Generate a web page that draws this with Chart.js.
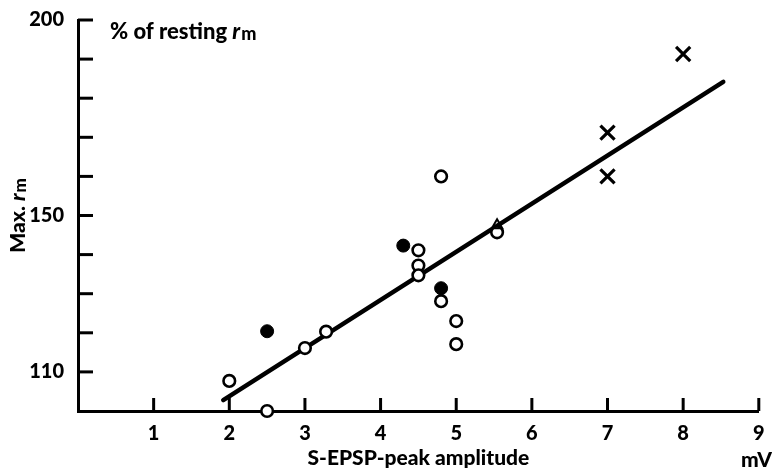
<!DOCTYPE html>
<html><head><meta charset="utf-8">
<script src="https://cdn.jsdelivr.net/npm/chart.js@4"></script>
<style>html,body{margin:0;padding:0;background:#fff}#wrap{width:772px;height:471px;position:relative}</style>
</head><body><div id="wrap"><canvas id="c"></canvas></div>
<script>
// S-EPSP peak amplitude (mV) vs max r_m (% of resting)
const openX   = [2.0, 2.5, 3.0, 3.28, 4.5, 4.5, 4.5, 4.8, 4.8, 5.0, 5.0, 5.54];
const openY   = [107.7, 100.0, 116.1, 120.3, 141.1, 137.2, 134.7, 160.0, 128.1, 123.0, 117.1, 145.7];
const filledX = [2.5, 4.3, 4.8];
const filledY = [120.4, 142.3, 131.4];
const triX    = [5.54];
const triY    = [147.5];
const crossX  = [7.0, 7.0, 8.0];
const crossY  = [171.2, 160.0, 191.3];
const fitX    = [1.92, 8.53];
const fitY    = [102.8, 184.2];
const xTicks  = [1, 2, 3, 4, 5, 6, 7, 8, 9];
const yTicks  = [110, 120, 130, 140, 150, 160, 170, 180, 190, 200];
const yLabelled = [110, 150, 200];

const FONT = 'Lato, "Open Sans", sans-serif';
const W = '900';
const pts = (xs, ys) => xs.map((x, i) => ({x, y: ys[i]}));

const tickPlugin = {
  id: 'inwardTicks',
  afterDraw(chart) {
    const {ctx, scales: {x, y}} = chart;
    ctx.save();
    ctx.strokeStyle = '#000';
    ctx.lineWidth = 3;
    ctx.lineCap = 'butt';
    const axisY = y.getPixelForValue(100);
    const axisX = x.getPixelForValue(0);
    xTicks.forEach(v => {
      const px = x.getPixelForValue(v);
      ctx.beginPath(); ctx.moveTo(px, axisY); ctx.lineTo(px, axisY - 13); ctx.stroke();
    });
    yTicks.forEach(v => {
      const py = y.getPixelForValue(v);
      ctx.beginPath(); ctx.moveTo(axisX, py); ctx.lineTo(axisX + 15, py); ctx.stroke();
    });
    ctx.fillStyle = '#000';
    ctx.textBaseline = 'alphabetic';
    // top-left label "% of resting r_m"
    let tx = axisX + 32, ty = y.getPixelForValue(200) + 19;
    ctx.font = W + ' 22px ' + FONT;
    ctx.fillText('% of resting ', tx, ty);
    tx += ctx.measureText('% of resting ').width;
    ctx.font = 'italic ' + W + ' 22px ' + FONT;
    ctx.fillText('r', tx, ty);
    tx += ctx.measureText('r').width + 1;
    ctx.font = W + ' 18px ' + FONT;
    ctx.fillText('m', tx, ty + 1);
    // y-axis title "Max. r_m"
    const cy = (y.getPixelForValue(100) + y.getPixelForValue(200)) / 2;
    ctx.save();
    ctx.translate(25, cy);
    ctx.rotate(-Math.PI / 2);
    ctx.font = W + ' 21px ' + FONT;
    const w1 = ctx.measureText('Max. ').width;
    ctx.font = 'italic ' + W + ' 21px ' + FONT;
    const w2 = ctx.measureText('r').width;
    ctx.font = W + ' 17px ' + FONT;
    const w3 = ctx.measureText('m').width;
    let sx = -(w1 + w2 + w3 + 1) / 2;
    ctx.font = W + ' 21px ' + FONT;
    ctx.fillText('Max. ', sx, 0); sx += w1;
    ctx.font = 'italic ' + W + ' 21px ' + FONT;
    ctx.fillText('r', sx, 0); sx += w2 + 1;
    ctx.font = W + ' 17px ' + FONT;
    ctx.fillText('m', sx, 1);
    ctx.restore();
    // unit "mV"
    ctx.font = W + ' 21px ' + FONT;
    ctx.textAlign = 'right';
    ctx.fillText('mV', chart.width, 467);
    ctx.restore();
  }
};

new Chart(document.getElementById('c'), {
  type: 'scatter',
  data: {
    datasets: [
      { label: 'fit', data: pts(fitX, fitY), showLine: true, borderColor: '#000', borderWidth: 4.5,
        pointRadius: 0, order: 10, clip: false, borderCapStyle: 'round' },
      { label: 'open', data: pts(openX, openY), pointStyle: 'circle', pointRadius: 5.8,
        borderWidth: 2.6, borderColor: '#000', backgroundColor: '#fff', order: 5, clip: false },
      { label: 'filled', data: pts(filledX, filledY), pointStyle: 'circle', pointRadius: 6.5,
        borderWidth: 1, borderColor: '#000', backgroundColor: '#000', order: 4, clip: false },
      { label: 'triangle', data: pts(triX, triY), pointStyle: 'triangle', pointRadius: 6,
        borderWidth: 2, borderColor: '#000', backgroundColor: 'rgba(0,0,0,0)', order: 1, clip: false },
      { label: 'cross', data: pts(crossX, crossY), pointStyle: 'crossRot', pointRadius: 10,
        borderWidth: 3.2, borderColor: '#000', backgroundColor: '#000', order: 2, clip: false }
    ]
  },
  options: {
    responsive: true, maintainAspectRatio: false, animation: false, devicePixelRatio: 1,
    layout: { padding: { left: 0, top: 20, right: 8, bottom: 0 } },
    plugins: { legend: { display: false }, tooltip: { enabled: false } },
    scales: {
      x: {
        type: 'linear', position: 'bottom', min: 0, max: 9,
        grid: { display: false }, border: { display: true, width: 3, color: '#000' },
        ticks: { stepSize: 1, padding: 3, color: '#000', font: { family: FONT, size: 20, weight: W },
          callback: v => (xTicks.includes(v) ? String(v) : '') },
        title: { display: true, text: 'S-EPSP-peak amplitude', color: '#000',
          font: { family: FONT, size: 21, weight: W }, padding: { top: 0, bottom: 0 } },
        afterFit: s => { s.height = 60; }
      },
      y: {
        type: 'linear', min: 100, max: 200,
        grid: { display: false }, border: { display: true, width: 3, color: '#000' },
        ticks: { stepSize: 10, padding: 6, color: '#000', font: { family: FONT, size: 20, weight: W },
          callback: v => (yLabelled.includes(v) ? String(v) : '') },
        afterFit: s => { s.width = 78; }
      }
    }
  },
  plugins: [tickPlugin]
});
</script></body></html>
